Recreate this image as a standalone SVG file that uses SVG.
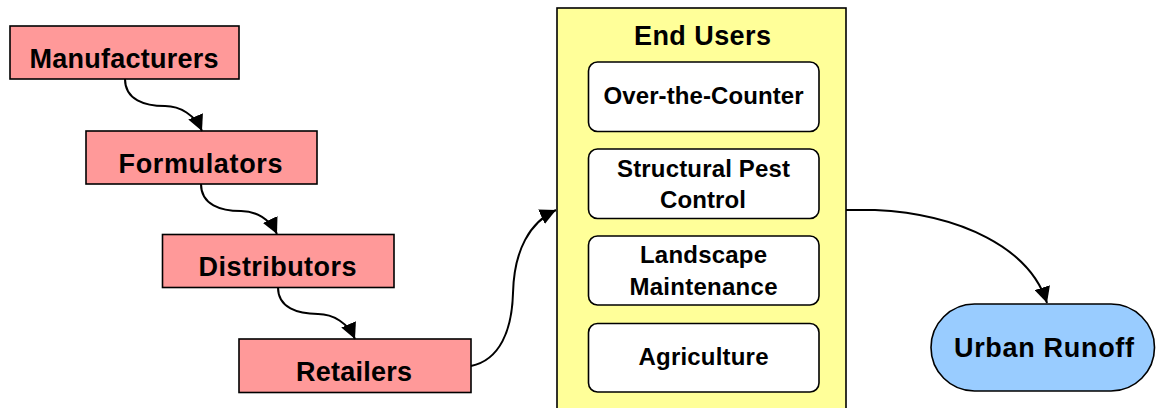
<svg xmlns="http://www.w3.org/2000/svg" width="1156" height="408" viewBox="0 0 1156 408">
<style>
text{font-family:"Liberation Sans",Arial,sans-serif;font-weight:bold;fill:#000;text-anchor:middle}
.big{font-size:27px}
.mid{font-size:24px}
.pink{fill:#FF9999;stroke:#000;stroke-width:1.6}
.inner{fill:#fff;stroke:#000;stroke-width:1.6}
.conn{fill:none;stroke:#000;stroke-width:2;marker-end:url(#ah)}
</style>
<defs>
<marker id="ah" markerUnits="userSpaceOnUse" markerWidth="18" markerHeight="16" refX="16" refY="8" orient="auto">
<path d="M0,0 L16,8 L0,16 Z" fill="#000"/>
</marker>
</defs>
<rect width="1156" height="408" fill="#fff"/>
<g id="end-users">
<rect x="557" y="8" width="289" height="412" fill="#FFFF99" stroke="#000" stroke-width="1.6"/>
<text class="big" x="702.5" y="45" textLength="137" lengthAdjust="spacing">End Users</text>
</g>
<g id="over-the-counter">
<rect class="inner" x="588.5" y="62" width="230.5" height="69.5" rx="9"/>
<text class="mid" x="703.5" y="104" textLength="200" lengthAdjust="spacing">Over-the-Counter</text>
</g>
<g id="structural-pest-control">
<rect class="inner" x="588.5" y="149" width="230.5" height="69.5" rx="9"/>
<text class="mid" x="703.5" y="176.7" textLength="173" lengthAdjust="spacing">Structural Pest</text>
<text class="mid" x="703" y="208.3" textLength="86" lengthAdjust="spacing">Control</text>
</g>
<g id="landscape-maintenance">
<rect class="inner" x="588.5" y="236" width="230.5" height="69" rx="9"/>
<text class="mid" x="703.5" y="263.3" textLength="127" lengthAdjust="spacing">Landscape</text>
<text class="mid" x="703.5" y="295" textLength="148" lengthAdjust="spacing">Maintenance</text>
</g>
<g id="agriculture">
<rect class="inner" x="588.5" y="323.5" width="230.5" height="68.5" rx="9"/>
<text class="mid" x="703.5" y="365" textLength="130" lengthAdjust="spacing">Agriculture</text>
</g>
<g id="manufacturers">
<rect class="pink" x="10" y="26" width="229" height="53"/>
<text class="big" x="124" y="67.7" textLength="189" lengthAdjust="spacing">Manufacturers</text>
</g>
<g id="formulators">
<rect class="pink" x="86" y="131" width="231" height="53"/>
<text class="big" x="200.5" y="172.7" textLength="164" lengthAdjust="spacing">Formulators</text>
</g>
<g id="distributors">
<rect class="pink" x="162.5" y="234.5" width="231.5" height="53"/>
<text class="big" x="277.5" y="276.3" textLength="158" lengthAdjust="spacing">Distributors</text>
</g>
<g id="retailers">
<rect class="pink" x="239" y="339" width="232" height="53.5"/>
<text class="big" x="354" y="380.7" textLength="116" lengthAdjust="spacing">Retailers</text>
</g>
<g id="urban-runoff">
<rect x="931" y="304" width="223.5" height="87" rx="43.5" fill="#99CCFF" stroke="#000" stroke-width="1.6"/>
<text class="big" x="1044" y="356.7" textLength="180" lengthAdjust="spacing">Urban Runoff</text>
</g>
<g id="connectors">
<path class="conn" d="M125,79 C125,100 145,106 165,106 C180,106 195,115 202,131"/>
<path class="conn" d="M201,184 C201,205 221,211 241,211 C256,211 270,219 277,234"/>
<path class="conn" d="M278,287.5 C278,308 298,314 318,314 C333,314 348,323 355,339"/>
<path class="conn" d="M471,366 C500,360 512,330 513,293 C514,250 530,222 556,210"/>
<path class="conn" d="M846,210 L875,210 C960,214 1030,248 1047,303"/>
</g>
</svg>
